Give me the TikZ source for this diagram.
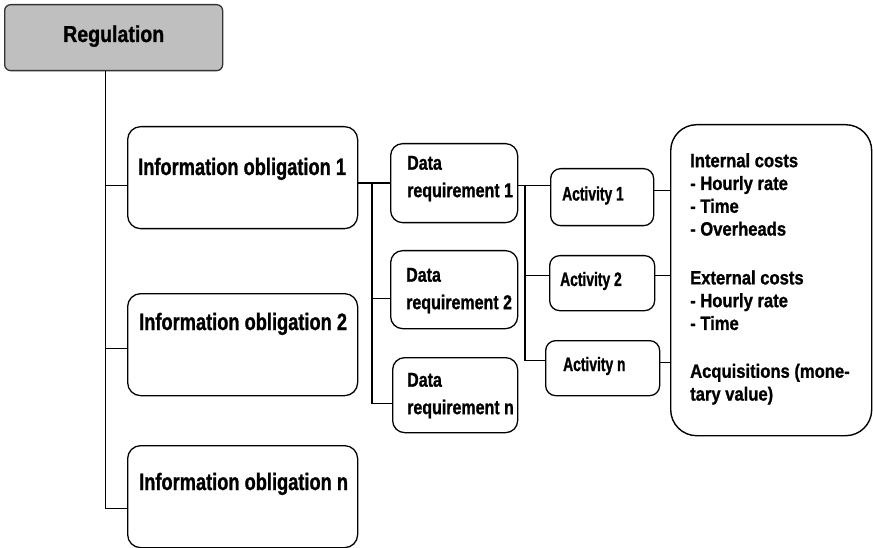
\documentclass[tikz,border=0pt]{standalone}
\usepackage{fontspec}
\setmainfont{Liberation Sans}
\newfontfamily\fReg{Liberation Sans}[FakeStretch=0.85, FakeBold=1]
\newfontfamily\fIO{Liberation Sans}[FakeStretch=0.77, FakeBold=1]
\newfontfamily\fDR{Liberation Sans}[FakeStretch=0.8, FakeBold=1]
\newfontfamily\fAct{Liberation Sans}[FakeStretch=0.71, FakeBold=1]
\newfontfamily\fBig{Liberation Sans}[FakeStretch=0.86, FakeBold=1]
\begin{document}
\begin{tikzpicture}[x=1pt,y=-1pt,
  conn/.style={draw=black, line width=1.4pt},
  regbox/.style={draw=black!80, line width=1.3pt, fill=black!25, rounded corners=6pt, inner sep=0pt, anchor=north west},
  iobox/.style={draw=black, line width=1.3pt, rounded corners=13pt, inner sep=0pt, anchor=north west, minimum width=230pt, minimum height=102pt},
  drbox/.style={draw=black, line width=1.3pt, rounded corners=12pt, inner sep=0pt, anchor=north west},
  actbox/.style={draw=black, line width=1.3pt, rounded corners=10pt, inner sep=0pt, anchor=north west},
  bigbox/.style={draw=black, line width=1.4pt, rounded corners=26pt, inner sep=0pt, anchor=north west},
  regtext/.style={inner sep=0pt, anchor=base west, font=\fReg\bfseries\fontsize{23}{28}\selectfont},
  iotext/.style={inner sep=0pt, anchor=base west, font=\fIO\bfseries\fontsize{23.7}{27}\selectfont},
  drtext/.style={inner sep=0pt, anchor=north west, align=left, font=\fDR\bfseries\fontsize{20}{27.5}\selectfont},
  acttext/.style={inner sep=0pt, anchor=base west, font=\fAct\bfseries\fontsize{19.5}{22}\selectfont},
  bigtext/.style={inner sep=0pt, anchor=north west, align=left, font=\fBig\bfseries\fontsize{19.3}{22.8}\selectfont}
]
\useasboundingbox (0,0) rectangle (873,548);

% Regulation
\node[regbox, minimum width=218pt, minimum height=66pt] (reg) at (4,4) {};
\node[regtext] (regt) at (63,42) {Regulation};

% Information obligations
\node[iobox] (io1) at (127,126) {};
\node[iobox] (io2) at (127,293) {};
\node[iobox] (ion) at (127,445) {};
\node[iotext] (io1t) at (138,175) {Information obligation 1};
\node[iotext] (io2t) at (139,330) {Information obligation 2};
\node[iotext] (iont) at (139,490) {Information obligation n};

% Data requirements
\node[drbox, minimum width=127pt, minimum height=79pt] (dr1) at (390,143) {};
\node[drbox, minimum width=127pt, minimum height=78pt] (dr2) at (390,250) {};
\node[drbox, minimum width=125pt, minimum height=75pt] (drn) at (392,357) {};
\node[drtext] (dr1t) at (407,155.7) {Data\\requirement 1};
\node[drtext] (dr2t) at (406,267.7) {Data\\requirement 2};
\node[drtext] (drnt) at (407,372.7) {Data\\requirement n};

% Activities
\node[actbox, minimum width=103pt, minimum height=57pt] (act1) at (550,168) {};
\node[actbox, minimum width=105pt, minimum height=55pt] (act2) at (549,255) {};
\node[actbox, minimum width=114pt, minimum height=55pt] (actn) at (545,340) {};
\node[acttext] (act1t) at (562,200.5) {Activity 1};
\node[acttext] (act2t) at (560,286) {Activity 2};
\node[acttext] (actnt) at (563,371) {Activity n};

% Cost box
\node[bigbox, minimum width=201pt, minimum height=311pt] (big) at (670,124) {};
\node[bigtext] (bigt) at (690,153) {Internal costs\\- Hourly rate\\- Time\\- Overheads\\[26pt]External costs\\- Hourly rate\\- Time\\[25pt]Acquisitions (mone-\\tary value)};

% Trunk from Regulation
\coordinate (trunk) at ([xshift=-8pt]reg.south);
\draw[conn] (trunk) |- ([yshift=-8pt]io1.west);
\draw[conn] (trunk) |- ([yshift=-4pt]io2.west);
\draw[conn] (trunk) |- ([yshift=-12pt]ion.west);

% IO1 to data requirements
\draw[conn] (io1.east |- dr1.west) -- (dr1.west);
\coordinate (bus1) at (372,182.5);
\draw[conn] (bus1) |- ([yshift=-9pt]dr2.west);
\draw[conn] (bus1) |- ([yshift=-8.5pt]drn.west);

% DR1 to activities
\coordinate (bus2) at (525,185);
\draw[conn] ([yshift=-2.5pt]dr1.east) -- ([yshift=11.5pt]act1.west);
\draw[conn] (bus2) |- ([yshift=7.5pt]act2.west);
\draw[conn] (bus2) |- ([yshift=7.5pt]actn.west);

% Activities to cost box
\path ([yshift=6.5pt]act1.east) coordinate (a1r);
\path ([yshift=7.5pt]act2.east) coordinate (a2r);
\path ([yshift=5.5pt]actn.east) coordinate (anr);
\draw[conn] (a1r) -- (a1r -| big.west);
\draw[conn] (a2r) -- (a2r -| big.west);
\draw[conn] (anr) -- (anr -| big.west);
\end{tikzpicture}
\end{document}
